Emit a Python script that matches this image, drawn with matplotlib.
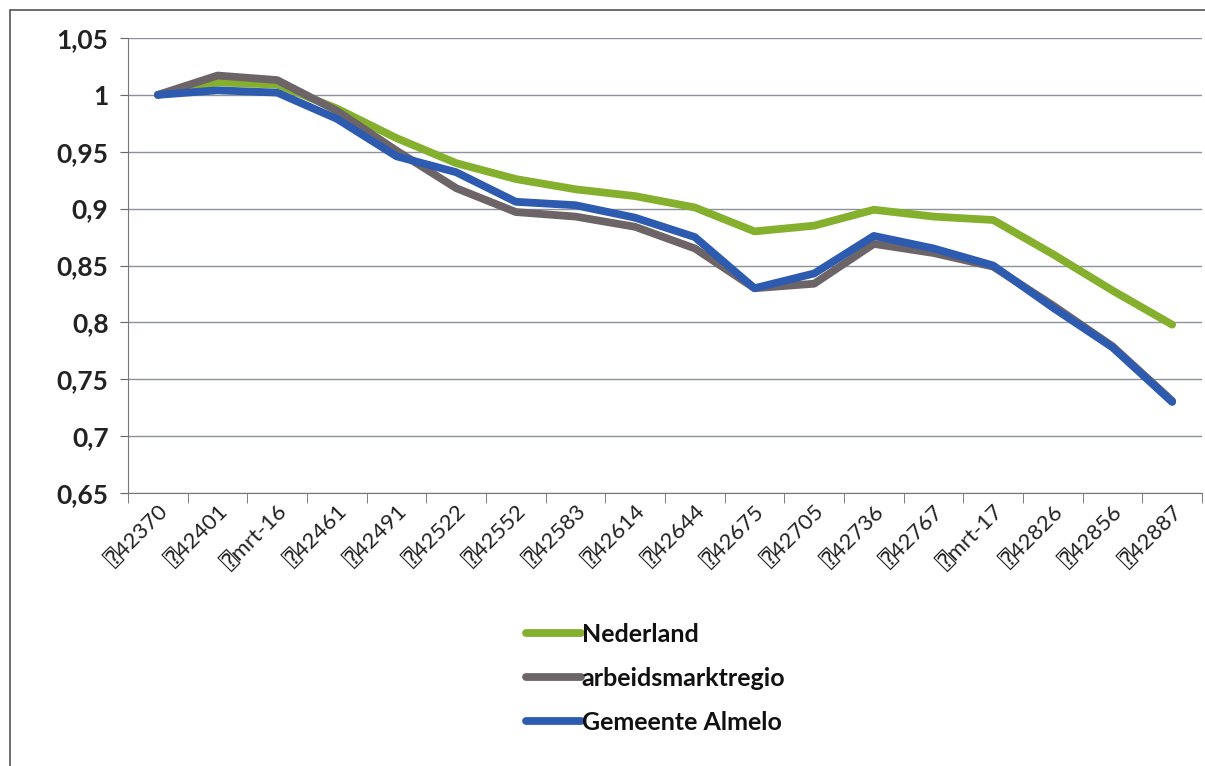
import matplotlib
matplotlib.use("Agg")
import matplotlib.pyplot as plt
from matplotlib.patches import Rectangle

categories = ["⍰42370", "⍰42401", "⍰mrt-16", "⍰42461", "⍰42491", "⍰42522",
              "⍰42552", "⍰42583", "⍰42614", "⍰42644", "⍰42675", "⍰42705",
              "⍰42736", "⍰42767", "⍰mrt-17", "⍰42826", "⍰42856", "⍰42887"]
nederland = [1.000, 1.011, 1.009, 0.988, 0.962, 0.940, 0.926, 0.917, 0.911, 0.901,
             0.880, 0.885, 0.899, 0.893, 0.890, 0.860, 0.828, 0.798]
arbeidsmarktregio = [1.000, 1.017, 1.013, 0.986, 0.951, 0.918, 0.897, 0.893, 0.884, 0.865,
                     0.830, 0.834, 0.869, 0.861, 0.849, 0.815, 0.779, 0.731]
almelo = [1.000, 1.004, 1.002, 0.979, 0.946, 0.932, 0.906, 0.903, 0.892, 0.875,
          0.830, 0.843, 0.876, 0.865, 0.850, 0.813, 0.778, 0.730]
series_names = ["Nederland", "arbeidsmarktregio", "Gemeente Almelo"]
yticks = [0.65, 0.70, 0.75, 0.80, 0.85, 0.90, 0.95, 1.00, 1.05]
ytick_labels = ["0,65", "0,7", "0,75", "0,8", "0,85", "0,9", "0,95", "1", "1,05"]

colors = ["#84B02E", "#6D6468", "#2D5BB0"]

plt.rcParams['font.family'] = ['Lato', 'DejaVu Sans', 'DejaVu Sans Mono', 'Noto Sans']

W, H = 1205, 766
fig = plt.figure(figsize=(W / 100, H / 100), dpi=100)
fig.patches.append(Rectangle((10 / W, -0.01), 1.02, 1 - 10 / H + 0.01, transform=fig.transFigure,
                             fill=False, edgecolor="#555555", linewidth=1.2))

left, right, top, bottom = 128, 1202, 38, 493
ax = fig.add_axes([left / W, 1 - bottom / H, (right - left) / W, (bottom - top) / H])

x = list(range(len(categories)))
for vals, name, c in zip([nederland, arbeidsmarktregio, almelo], series_names, colors):
    ax.plot(x, vals, color=c, linewidth=5.6, label=name, solid_capstyle="round",
            solid_joinstyle="round")

ax.set_xlim(-0.5, len(categories) - 0.5)
ax.set_ylim(0.65, 1.05)
ax.set_yticks(yticks)
ax.set_yticklabels(ytick_labels, fontsize=19, fontweight="bold", color="#222222")
ax.set_xticks(x)
ax.set_xticklabels(categories, rotation=45, ha="right", rotation_mode="anchor",
                   fontsize=16, color="#222222")
ax.set_xticks([i - 0.5 for i in range(len(categories) + 1)], minor=True)
ax.tick_params(axis="x", which="major", length=0, pad=6)
ax.tick_params(axis="x", which="minor", length=7, color="#666666", direction="out")
ax.tick_params(axis="y", length=6, color="#666666", pad=8)

ax.grid(axis="y", color="#8C919B", linewidth=1.0)
ax.set_axisbelow(True)
for s in ["top", "right"]:
    ax.spines[s].set_visible(False)
ax.spines["left"].set_color("#777777")
ax.spines["bottom"].set_color("#777777")

leg = ax.legend(loc="upper left", bbox_to_anchor=(503 / W, 1 - 600 / H),
                bbox_transform=fig.transFigure, frameon=False, fontsize=18,
                handlelength=2.2, handletextpad=0.05, labelspacing=0.85)
for t in leg.get_texts():
    t.set_color("#111111")
    t.set_fontweight("bold")

fig.savefig("out.png", dpi=100)
